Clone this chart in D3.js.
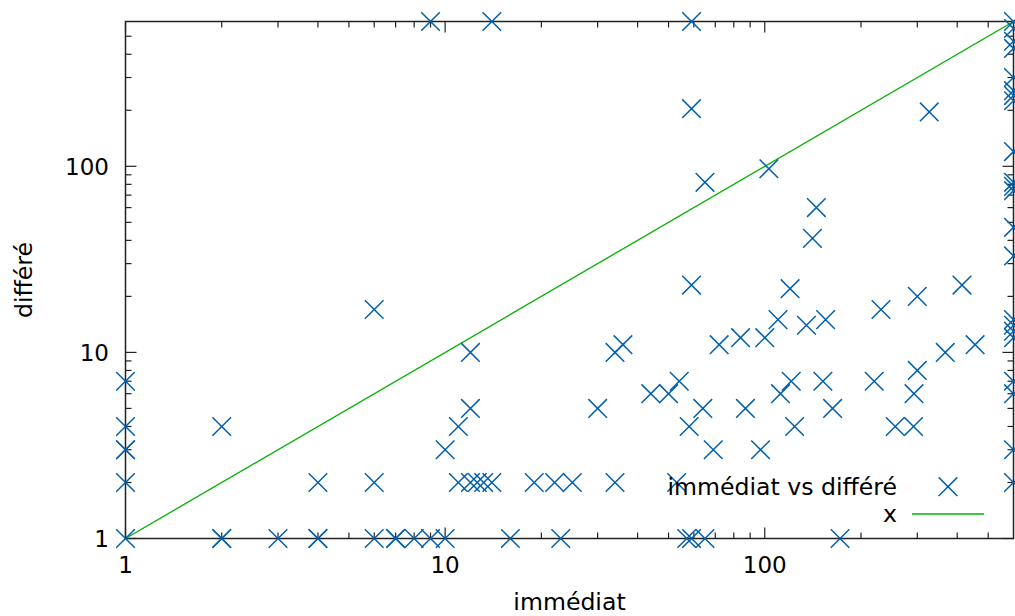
<!DOCTYPE html>
<html><head><meta charset="utf-8">
<script src="https://cdn.jsdelivr.net/npm/d3@7"></script>
<style>
body{margin:0;background:#fff;}
text{font-family:"DejaVu Sans",sans-serif;fill:#000;}
</style></head>
<body><svg id="c" width="1015" height="616"></svg>
<script>
// data: immédiat (x) vs différé (y)
const immediat = [1,1,1,1,1,1, 2,2,2, 3, 4,4,4, 6,6,6, 7,7, 8, 9, 10, 9, 10,
  11,11, 12,12,12, 12.6,13.2,14, 14, 16, 19, 22, 23, 25, 30, 34,34, 36, 44, 50, 53, 54,
  57,59,65, 58, 59,59,59, 64, 65, 69, 72, 84, 87, 97, 100, 103, 110, 112, 120, 121, 124,
  135, 141, 145, 152, 155, 163, 172, 220, 231, 256, 292, 293, 300, 300, 327, 367, 414, 455,
  600,600,600,600,600,600,600,600,600,600,600,600,600,600,600,600,600,600,600,600,600,600];
const differe = [1,2,3,3,4,7, 1,1,4, 1, 1,1,2, 1,2,17, 1,1, 1, 1, 1, 600, 3,
  2,4, 2,5,10, 2,2,2, 600, 1, 2, 2, 1, 2, 5, 2,10, 11, 6, 6, 2, 7,
  1,1,1, 4, 23,204,600, 5, 82, 3, 11, 12, 5, 3, 12, 97, 15, 6, 22, 7, 4,
  14, 41, 60, 7, 15, 5, 1, 7, 17, 4, 4, 6, 8, 20, 196, 10, 23, 11,
  600,550,470,430,300,255,240,225,120,82,78,74,47,33,15,14,13,12,7,6,3,2];
const domainMax = 600;
const majorTicks = [1, 10, 100];
const xLabel = "immédiat", yLabel = "différé";
const legendLabels = ["immédiat vs différé", "x"];

const svg = d3.select("#c");
const L = 125.5, R = 1013.5, T = 21.5, B = 538.5;
const x = d3.scaleLog().domain([1, domainMax]).range([L, R]);
const y = d3.scaleLog().domain([1, domainMax]).range([B, T]);
const blue = "#0060ad", green = "#00b000", axisCol = "#222";

// minor ticks
const minor = [];
for (let d = 1; d <= 100; d *= 10) for (let k = 2; k <= 9; k++) if (d*k < domainMax) minor.push(d*k);

const g = svg.append("g");
function ticks(vals, len) {
  vals.forEach(v => {
    const px = x(v), py = y(v);
    g.append("line").attr("x1", px).attr("x2", px).attr("y1", B).attr("y2", B - len);
    g.append("line").attr("x1", px).attr("x2", px).attr("y1", T).attr("y2", T + len);
    g.append("line").attr("y1", py).attr("y2", py).attr("x1", L).attr("x2", L + len);
    g.append("line").attr("y1", py).attr("y2", py).attr("x1", R).attr("x2", R - len);
  });
}
ticks(majorTicks, 11);
ticks(minor, 6);
g.selectAll("line").attr("stroke", axisCol).attr("stroke-width", 1.2);

// border
svg.append("rect").attr("x", L).attr("y", T).attr("width", R - L).attr("height", B - T)
  .attr("fill", "none").attr("stroke", axisCol).attr("stroke-width", 1.5);

// tick labels
majorTicks.forEach(v => {
  svg.append("text").attr("x", x(v)).attr("y", 573).attr("text-anchor", "middle")
    .attr("font-size", 23).text(v);
  svg.append("text").attr("x", 109).attr("y", y(v) + 8.5).attr("text-anchor", "end")
    .attr("font-size", 23).text(v);
});

// axis titles
svg.append("text").attr("x", (L + R) / 2).attr("y", 609.5).attr("text-anchor", "middle")
  .attr("font-size", 23.6).text(xLabel);
svg.append("text").attr("transform", `translate(31.5,${(T + B) / 2}) rotate(-90)`)
  .attr("text-anchor", "middle").attr("font-size", 23.6).text(yLabel);

// y = x line
const dom = x.domain();
svg.append("line").attr("x1", x(dom[0])).attr("y1", y(dom[0])).attr("x2", x(dom[1])).attr("y2", y(dom[1]))
  .attr("stroke", green).attr("stroke-width", 1.3);

// crosses
const s = 9.3;
function cross(sel, cx, cy) {
  sel.append("path").attr("d", `M${cx - s},${cy - s}L${cx + s},${cy + s}M${cx - s},${cy + s}L${cx + s},${cy - s}`)
    .attr("stroke", blue).attr("stroke-width", 1.5).attr("fill", "none");
}
const pts = svg.append("g");
immediat.forEach((v, i) => cross(pts, x(v), y(differe[i])));

// legend
svg.append("text").attr("x", 897).attr("y", 495).attr("text-anchor", "end").attr("font-size", 23.6).text(legendLabels[0]);
cross(svg, 948, 486.7);
svg.append("text").attr("x", 897).attr("y", 522).attr("text-anchor", "end").attr("font-size", 23.6).text(legendLabels[1]);
svg.append("line").attr("x1", 912).attr("x2", 984).attr("y1", 514).attr("y2", 514)
  .attr("stroke", green).attr("stroke-width", 1.3);
</script></body></html>
